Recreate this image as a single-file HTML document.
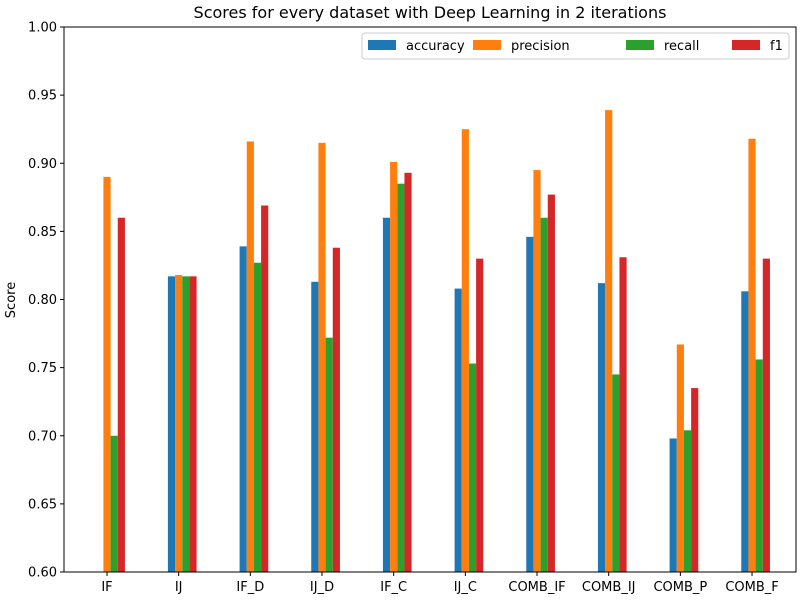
<!DOCTYPE html>
<html><head><meta charset="utf-8"><style>
body{margin:0;background:#fff;font-family:"Liberation Sans","DejaVu Sans",sans-serif}
</style></head><body>
<svg id="chart" width="800" height="600" xmlns="http://www.w3.org/2000/svg" font-family="DejaVu Sans, Liberation Sans, sans-serif">
<rect width="800" height="600" fill="#fff"/>
<g id="bars"></g>
<g id="axes"></g>
</svg>
<script>
const categories=["IF","IJ","IF_D","IJ_D","IF_C","IJ_C","COMB_IF","COMB_IJ","COMB_P","COMB_F"];
const seriesNames=["accuracy","precision","recall","f1"];
const accuracy=[0.58,0.817,0.839,0.813,0.860,0.808,0.846,0.812,0.698,0.806];
const precision=[0.890,0.818,0.916,0.915,0.901,0.925,0.895,0.939,0.767,0.918];
const recall=[0.700,0.817,0.827,0.772,0.885,0.753,0.860,0.745,0.704,0.756];
const f1=[0.860,0.817,0.869,0.838,0.893,0.830,0.877,0.831,0.735,0.830];
const yTicks=[0.60,0.65,0.70,0.75,0.80,0.85,0.90,0.95,1.00];
const colors=["#1f77b4","#ff7f0e","#2ca02c","#d62728"];
const series=[accuracy,precision,recall,f1];
const L=64,R=796,T=27,B=572;
const xs=i=>107+i*71.67;
const ys=v=>B-(v-0.6)/(0.4)*(B-T);
const NS="http://www.w3.org/2000/svg";
function mk(t,a,p){const e=document.createElementNS(NS,t);for(const k in a)e.setAttribute(k,a[k]);p.appendChild(e);return e;}
const bars=document.getElementById('bars'),axes=document.getElementById('axes'),svg=document.getElementById('chart');
const w=7.17;
series.forEach((s,j)=>{s.forEach((v,i)=>{
 const vv=Math.max(v,0.6);const cx=xs(i)+(j-1)*w;
 const r=mk('rect',{x:cx-w/2,y:ys(vv),width:w,height:B-ys(vv),fill:colors[j]},bars);
 
 
});});
mk('rect',{x:L,y:T,width:R-L,height:B-T,fill:'none',stroke:'#000','stroke-width':1},axes);
categories.forEach((c,i)=>{
 mk('line',{x1:xs(i),x2:xs(i),y1:B,y2:B+4,stroke:'#000'},axes);
 const t=mk('text',{x:xs(i),y:B+19,'text-anchor':'middle','font-size':13},axes);t.textContent=c;
 
 
});
yTicks.forEach(v=>{
 mk('line',{x1:L-4,x2:L,y1:ys(v),y2:ys(v),stroke:'#000'},axes);
 const t=mk('text',{x:L-7,y:ys(v)+4.5,'text-anchor':'end','font-size':13},axes);t.textContent=v.toFixed(2);
 
 
});
const yt=mk('text',{x:15,y:300,'text-anchor':'middle','font-size':13,transform:'rotate(-90 15 300)'},axes);yt.textContent='Score';


const tt=mk('text',{x:430,y:18,'text-anchor':'middle','font-size':16},axes);tt.textContent='Scores for every dataset with Deep Learning in 2 iterations';


const lg=mk('g',{},svg);


mk('rect',{x:362,y:33,width:427,height:26,rx:3,fill:'#fff',stroke:'#ccc'},lg);
const lx=[368,473,626,732];
seriesNames.forEach((n,j)=>{
 mk('rect',{x:lx[j],y:40,width:28,height:10,fill:colors[j]},lg);
 const t=mk('text',{x:lx[j]+38,y:50,'font-size':13},lg);t.textContent=n;
 
 
});
</script>
</body></html>
